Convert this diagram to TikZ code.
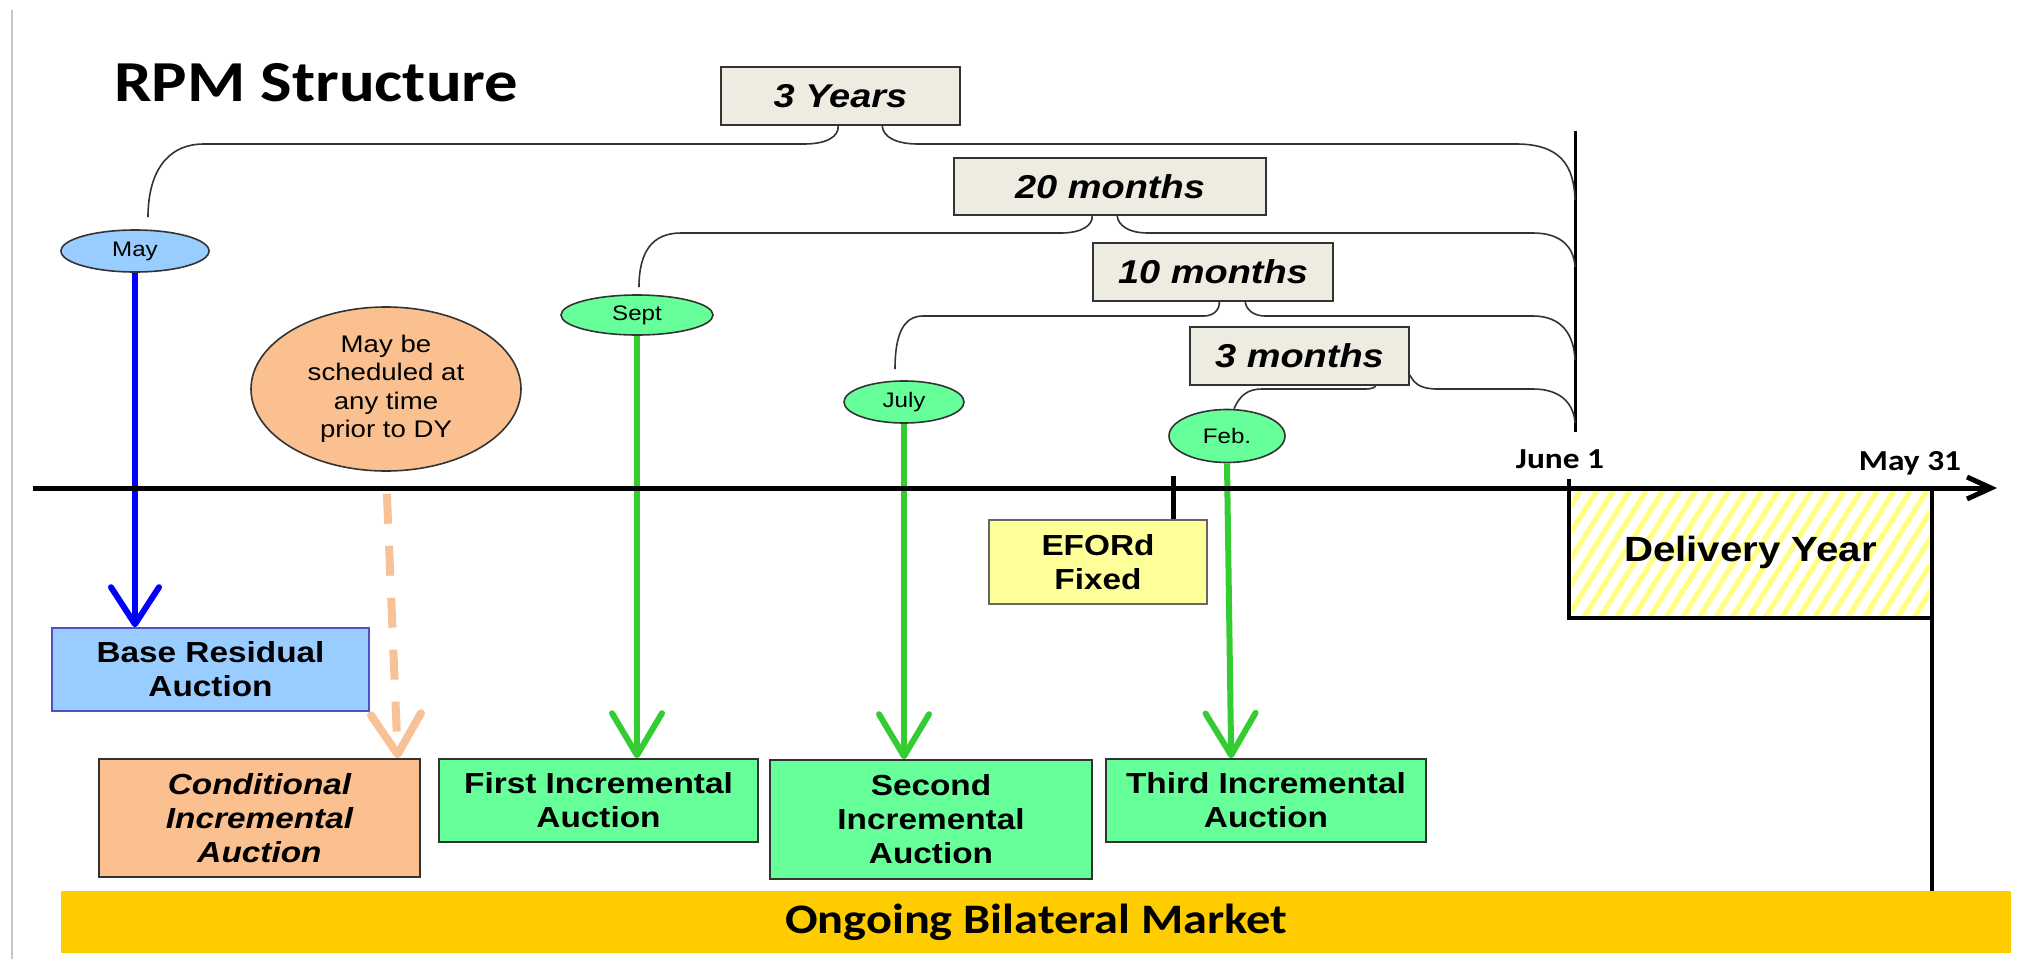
\documentclass[tikz,border=0pt]{standalone}
\usepackage{fontspec}
\setmainfont{Liberation Sans}[FakeStretch=1.15]
\newfontfamily\calib{Carlito}[FakeStretch=1.15]
\usetikzlibrary{arrows.meta,patterns.meta,calc,shapes.geometric}
\definecolor{beige}{HTML}{EEECE1}
\definecolor{grn}{HTML}{66FF99}
\definecolor{grline}{HTML}{33CC33}
\definecolor{lblue}{HTML}{99CCFF}
\definecolor{bblue}{HTML}{5050C8}
\definecolor{tan}{HTML}{FAC090}
\definecolor{tandash}{HTML}{F9C196}
\definecolor{lyel}{HTML}{FFFF99}
\definecolor{hatch}{HTML}{FFFF80}
\definecolor{barc}{HTML}{FFCC00}
\definecolor{dk}{HTML}{333333}
\tikzset{
  boxlbl/.style={font=\bfseries\fontsize{14.5}{17}\selectfont, align=center},
  box/.style={draw=dk, line width=0.8pt, inner sep=0pt, boxlbl},
  gbox/.style={box, fill=grn},
  tbox/.style={draw=dk, fill=beige, line width=0.8pt, inner sep=0pt,
    font=\bfseries\itshape\fontsize{16.5}{20}\selectfont},
  oval/.style={ellipse, draw=dk, line width=0.8pt, inner sep=0pt,
    font=\fontsize{10.5}{12}\selectfont},
  brc/.style={draw=dk, line width=0.8pt},
  garr/.style={draw=grline, line width=3pt, -{Straight Barb[length=21pt,width=25pt,round]}},
  barr/.style={draw=blue, line width=3pt, -{Straight Barb[length=18.5pt,width=24pt,round]}},
  oarr/.style={draw=tandash, line width=4pt, dash pattern=on 15pt off 11pt, dash phase=15pt,
    -{Straight Barb[length=20pt,width=25pt,round]}},
  datelbl/.style={font=\calib\bfseries\fontsize{14.5}{17}\selectfont, inner sep=0pt}
}
\begin{document}
\begin{tikzpicture}[x=0.5pt,y=-0.5pt]
\useasboundingbox (0,0) rectangle (2025,959);
\draw[black!22, line width=1pt] (12,10) -- (12,959);

% title
\node[anchor=base west, inner sep=0pt, font=\calib\bfseries\fontsize{29}{34}\selectfont] (title) at (114,101) {RPM Structure};

% duration boxes
\node[tbox, minimum width=119.5pt, minimum height=29pt] (y3) at (840.5,96) {3 Years};
\node[tbox, minimum width=156pt, minimum height=28.5pt] (m20) at (1110,186.5) {20 months};
\node[tbox, minimum width=120pt, minimum height=29pt] (m10) at (1213,272) {10 months};
\node[tbox, minimum width=109.5pt, minimum height=29pt] (m3) at (1299.5,356) {3 months};

% month ovals
\node[oval, fill=lblue, minimum width=74pt, minimum height=21pt] (may) at (135,251) {May};
\node[oval, fill=grn, minimum width=76pt, minimum height=20pt] (sept) at (637,315) {Sept};
\node[oval, fill=grn, minimum width=60pt, minimum height=21pt] (july) at (904,402) {July};
\node[oval, fill=grn, minimum width=58pt, minimum height=26.5pt] (feb) at (1227,436) {Feb.};
\node[ellipse, draw=dk, line width=0.8pt, fill=tan, inner sep=0pt, minimum width=135pt, minimum height=82pt,
  align=center, font=\fontsize{12}{14.25}\selectfont] (orange) at (386,389)
  {May be\\scheduled at\\any time\\prior to DY};

% June 1 line
\coordinate (j1top) at (1575,131);
\coordinate (j1bot) at (1575,432);
\draw[line width=1.5pt] (j1top) -- (j1bot);

% braces
\draw[brc] ($(may.north)+(13,-12)$) .. controls (148,175) and (165,144) .. (204,144) -- (804,144)
  .. controls (826,144) and (839,137) .. ($(y3.south west)+(118,0)$);
\draw[brc] ($(y3.south west)+(162,0)$) .. controls (883,137) and (896,144) .. (918,144) -- (1516,144)
  .. controls (1560,144) and (1574,165) .. (1575,200);

\draw[brc] ($(sept.north)+(2,-7)$) .. controls (639,252) and (652,233) .. (681,233) -- (1061,233)
  .. controls (1082,233) and (1093,225) .. ($(m20.south west)+(139,0)$);
\draw[brc] ($(m20.south west)+(164,0)$) .. controls (1118,225) and (1128,233) .. (1148,233) -- (1533,233)
  .. controls (1562,233) and (1574,248) .. (1575,267);

\draw[brc] ($(july.north)+(-9,-11)$) .. controls (895,335) and (903,316) .. (923,316) -- (1204,316)
  .. controls (1214,316) and (1220,309) .. ($(m10.south west)+(127,0)$);
\draw[brc] ($(m10.south west)+(153,0)$) .. controls (1246,309) and (1253,316) .. (1265,316) -- (1533,316)
  .. controls (1562,316) and (1574,335) .. (1575,360);

\draw[brc] ($(feb.north)+(7,0)$) .. controls (1240,395) and (1248,389) .. (1262,389) -- (1366,389)
  .. controls (1372,389) and (1376,387) .. ($(m3.south west)+(186,0)$);
\draw[brc] ($(m3.east)+(0,19)$) .. controls (1415,385) and (1422,389) .. (1438,389) -- (1533,389)
  .. controls (1562,389) and (1574,405) .. (1575,423);

% bottom boxes
\node[box, fill=lblue, draw=bblue, minimum width=158.5pt, minimum height=41.5pt] (base) at (210.5,669.5) {Base Residual\\Auction};
\node[box, fill=tan, minimum width=160.5pt, minimum height=59pt, font=\bfseries\itshape\fontsize{14.5}{17}\selectfont] (cond) at (259.5,818) {Conditional\\Incremental\\Auction};
\node[gbox, minimum width=159.5pt, minimum height=41.5pt] (first) at (598.5,800.5) {First Incremental\\Auction};
\node[gbox, minimum width=161pt, minimum height=59.5pt] (second) at (931,819.5) {Second\\Incremental\\Auction};
\node[gbox, minimum width=160pt, minimum height=41.5pt] (third) at (1266,800.5) {Third Incremental\\Auction};
\node[box, fill=lyel, draw=black!60, minimum width=109pt, minimum height=42pt] (eford) at (1098,562) {EFORd\\Fixed};

% delivery year
\node[inner sep=0pt, minimum width=178.5pt, minimum height=62.5pt,
  pattern={Lines[angle=58,distance=7pt,line width=2.6pt]}, pattern color=hatch,
  font=\bfseries\fontsize{17.5}{20}\selectfont] (dy) at (1750.5,552.5) {Delivery Year};

% bilateral bar
\node[fill=barc, inner sep=0pt, minimum width=975pt, minimum height=31pt,
  font=\calib\bfseries\fontsize{21}{24}\selectfont] (bar) at (1036,922) {Ongoing Bilateral Market};

% arrows
\draw[barr] (may.south) -- (may.south |- base.north);
\draw[garr] (sept.south) -- (sept.south |- first.north);
\draw[garr] (july.south) -- (july.south |- second.north);
\draw[garr] (feb.south) -- ([xshift=63pt]third.north west);
\draw[oarr] (orange.south) -- ([xshift=-11.5pt]cond.north east);

% timeline
\coordinate (tl0) at (33,488);
\coordinate (tl1) at (1997,488);
\draw[line width=2.5pt, -{Straight Barb[length=12pt,width=11pt]}] (tl0) -- (tl1);
\draw[line width=2.5pt] ($(eford.north)+(75,-43)$) -- ([xshift=37.5pt]eford.north);
\draw[line width=2pt] ($(dy.north west)+(0,-8)$) -- (dy.south west) -- (dy.south east);
\draw[line width=2pt] (dy.north east) -- (dy.north east |- bar.north);

\node[datelbl, anchor=base] (june) at (1560,468) {June 1};
\node[datelbl, anchor=base] (may31) at (1910,470) {May 31};
\end{tikzpicture}
\end{document}
